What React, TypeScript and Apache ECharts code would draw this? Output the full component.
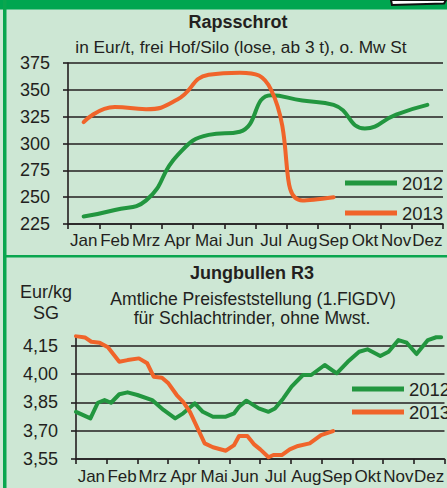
import React, { useEffect, useRef } from 'react';
import * as echarts from 'echarts';

const months = ['Jan', 'Feb', 'Mrz', 'Apr', 'Mai', 'Jun', 'Jul', 'Aug', 'Sep', 'Okt', 'Nov', 'Dez'];

// Rapsschrot (EUR/t), monthly
const raps2012 = [232, 238, 247, 289, 308, 311, 345, 340, 336, 314, 327, 336];
const raps2013 = [320, 334, 332, 341, 364, 366, 350, 247, 250];

// Jungbullen R3 (EUR/kg SG), position in months from Jan start
const bullen2012Pos = [0.0, 0.47, 0.71, 0.93, 1.14, 1.41, 1.68, 2.0, 2.48, 2.85, 3.23, 3.49, 3.87, 4.13, 4.46, 4.88, 5.15, 5.31, 5.55, 5.95, 6.27, 6.48, 6.75, 7.02, 7.39, 7.66, 8.1, 8.49, 8.85, 9.22, 9.49, 9.91, 10.18, 10.5, 10.77, 11.09, 11.46, 11.73, 11.89];
const bullen2012 = [3.8, 3.765, 3.848, 3.862, 3.848, 3.893, 3.903, 3.889, 3.862, 3.81, 3.765, 3.792, 3.845, 3.8, 3.774, 3.774, 3.792, 3.827, 3.859, 3.818, 3.8, 3.818, 3.871, 3.933, 3.995, 3.995, 4.048, 4.004, 4.065, 4.118, 4.131, 4.096, 4.118, 4.18, 4.166, 4.106, 4.18, 4.195, 4.195];
const bullen2013Pos = [0.0, 0.29, 0.5, 0.77, 1.04, 1.41, 1.68, 2.05, 2.32, 2.53, 2.8, 3.01, 3.28, 3.49, 3.71, 4.19, 4.46, 4.88, 5.15, 5.31, 5.58, 5.79, 6.0, 6.27, 6.43, 6.7, 6.96, 7.23, 7.61, 7.98, 8.37];
const bullen2013 = [4.201, 4.194, 4.171, 4.166, 4.142, 4.065, 4.074, 4.083, 4.057, 3.986, 3.981, 3.951, 3.889, 3.853, 3.8, 3.633, 3.612, 3.594, 3.624, 3.672, 3.672, 3.629, 3.601, 3.559, 3.571, 3.571, 3.601, 3.619, 3.633, 3.677, 3.698];

const GREEN = '#22963f';
const ORANGE = '#f0642a';
const INK = '#231f20';
const BG = '#cde7d4';
const FRAME = '#0aa64f';
const SANS = '"Liberation Sans", Arial, sans-serif';

export default function App() {
  const ref = useRef<HTMLDivElement>(null);
  useEffect(() => {
    const chart = echarts.init(ref.current!, null, { renderer: 'svg' });
    const axisLine = { show: true, lineStyle: { color: INK, width: 1.6 } };
    const axisTick = { show: true, length: 5, lineStyle: { color: INK, width: 1.6 } };
    const label = { color: INK, fontFamily: SANS, fontSize: 17 };
    const txt = (text: string, x: number, y: number, size: number, bold = false) => ({
      type: 'text',
      x,
      y,
      style: {
        text,
        fill: INK,
        fontSize: size,
        fontWeight: bold ? 'bold' : 'normal',
        fontFamily: SANS,
        align: 'center',
        verticalAlign: 'middle',
      },
    });
    const lineSeries = (name: string, color: string, data: any, xi: number, yi: number, smooth: boolean) => ({
      type: 'line',
      name,
      data,
      xAxisIndex: xi,
      yAxisIndex: yi,
      smooth,
      showSymbol: false,
      symbol: 'none',
      itemStyle: { color },
      lineStyle: { color, width: 4, cap: 'round', join: 'round' },
    });
    const legend = (left: number, top: number, gap: number) => ({
      orient: 'vertical',
      left,
      top,
      padding: 0,
      itemGap: gap,
      itemWidth: 52,
      itemHeight: 5,
      icon: 'rect',
      selectedMode: false,
      data: ['2012', '2013'],
      textStyle: { color: INK, fontFamily: SANS, fontSize: 18.5, lineHeight: 22, padding: [0, 0, 0, 0] },
    });

    chart.setOption({
      animation: false,
      backgroundColor: BG,
      grid: [
        { left: 68, top: 63, width: 375, height: 161 },
        { left: 76, top: 336.3, width: 374.4, height: 122.7 },
      ],
      xAxis: [
        {
          type: 'category', gridIndex: 0, data: months, boundaryGap: true,
          axisLine, axisTick: { ...axisTick, interval: 0 },
          axisLabel: { ...label, interval: 0, margin: 8 },
        },
        {
          type: 'category', gridIndex: 1, data: months, boundaryGap: true,
          axisLine, axisTick: { ...axisTick, interval: 0 },
          axisLabel: { ...label, interval: 0, margin: 9 },
        },
        { type: 'value', gridIndex: 1, min: 0, max: 12, show: false },
      ],
      yAxis: [
        {
          type: 'value', gridIndex: 0, min: 225, max: 375, interval: 25,
          axisLine, axisTick,
          axisLabel: { ...label, fontSize: 18, margin: 18 },
          splitLine: { show: true, lineStyle: { color: INK, width: 1.6 } },
        },
        {
          type: 'value', gridIndex: 1, min: 3.55, max: 4.2, interval: 0.15,
          axisLine, axisTick,
          axisLabel: {
            ...label, fontSize: 18, margin: 18, showMaxLabel: false,
            formatter: (v: number) => (Math.abs(v - 4.2) < 1e-6 ? '' : v.toFixed(2).replace('.', ',')),
          },
          splitLine: { show: true, showMaxLine: false, lineStyle: { color: INK, width: 1.6 } },
        },
      ],
      legend: [legend(345, 172, 8), legend(352, 378, 1)],
      series: [
        lineSeries('2012', GREEN, raps2012, 0, 0, true),
        lineSeries('2013', ORANGE, raps2013, 0, 0, true),
        lineSeries('2012', GREEN, bullen2012Pos.map((p, i) => [p, bullen2012[i]]), 2, 1, false),
        lineSeries('2013', ORANGE, bullen2013Pos.map((p, i) => [p, bullen2013[i]]), 2, 1, false),
      ],
      graphic: [
        { type: 'rect', shape: { x: 0, y: 0, width: 447, height: 9.5 }, style: { fill: '#00a650' } },
        { type: 'rect', shape: { x: 3, y: 0, width: 3.5, height: 488 }, style: { fill: FRAME } },
        { type: 'rect', shape: { x: 6, y: 255, width: 441, height: 2.5 }, style: { fill: FRAME } },
        {
          type: 'polygon',
          shape: { points: [[391, 0], [392, 5], [444, 3.5], [446, 0]] },
          style: { fill: '#ffffff', stroke: '#111', lineWidth: 2 },
        },
        txt('Rapsschrot', 238, 22, 18, true),
        txt('in Eur/t, frei Hof/Silo (lose, ab 3 t), o. Mw St', 241, 47, 17.3),
        txt('Jungbullen R3', 252, 273, 18, true),
        txt('Amtliche Preisfeststellung (1.FlGDV)', 253, 299, 17.6),
        txt('für Schlachtrinder, ohne Mwst.', 252, 318, 17.6),
        txt('Eur/kg', 46, 292, 18),
        txt('SG', 46, 313, 18),
      ],
    });
    return () => chart.dispose();
  }, []);
  return (
    <div
      ref={ref}
      style={{ position: 'fixed', left: 0, top: 0, width: 447, height: 488, background: BG }}
    />
  );
}
